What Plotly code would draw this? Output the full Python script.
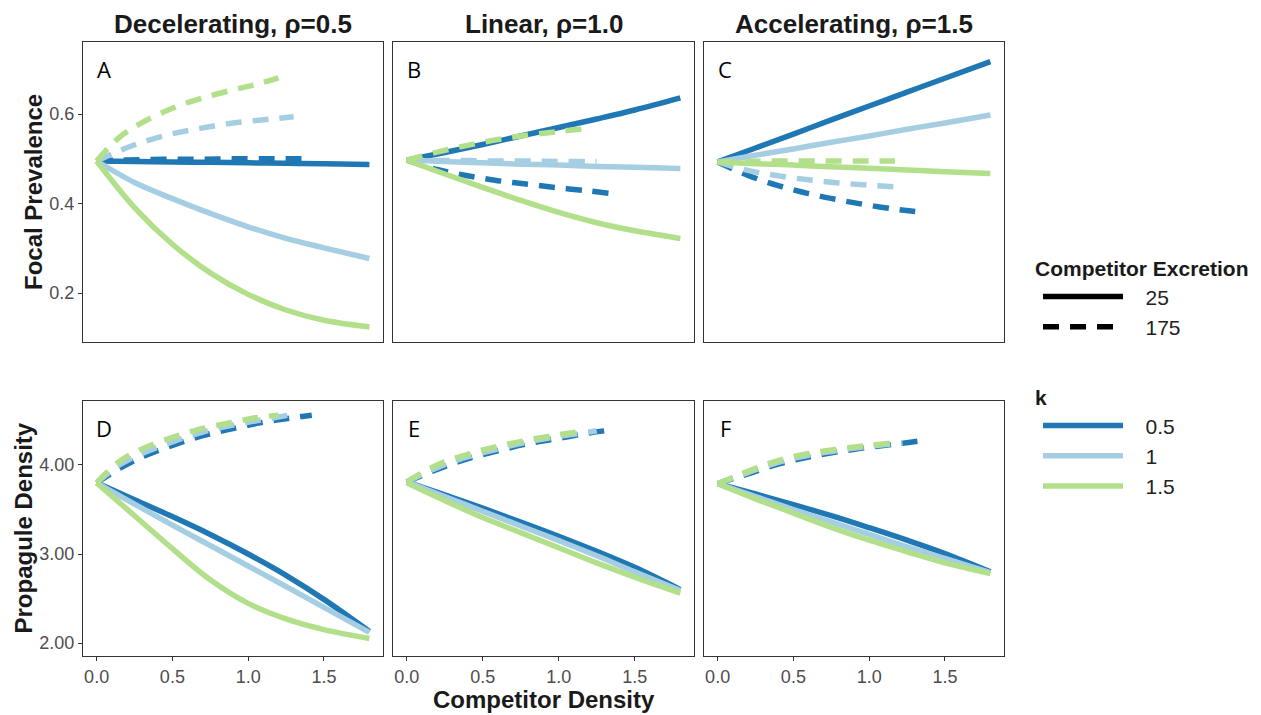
import plotly.graph_objects as go

# ---------------- data ----------------
regime_titles = ["Decelerating, ρ=0.5", "Linear, ρ=1.0", "Accelerating, ρ=1.5"]
panel_letters = ["A", "B", "C", "D", "E", "F"]
k_levels = ["0.5", "1", "1.5"]
k_colors = ["#1F78B4", "#A6CEE3", "#B2DF8A"]
excretion_levels = ["25", "175"]

# competitor density for excretion = 25 (solid)
density_25 = [0, 0.25, 0.5, 0.75, 1.0, 1.25, 1.5, 1.8]

# competitor density for excretion = 175 (dashed), per rho and k
density_175_r05_k05 = [0, 0.15, 0.3, 0.5, 0.7, 0.9, 1.1, 1.25, 1.42]
density_175_r05_k1 = [0, 0.15, 0.3, 0.5, 0.7, 0.9, 1.1, 1.3]
density_175_r05_k15 = [0, 0.15, 0.3, 0.5, 0.7, 0.9, 1.05, 1.2]
density_175_r10_k05 = [0, 0.2, 0.4, 0.6, 0.8, 1.0, 1.2, 1.33]
density_175_r10_k1 = [0, 0.2, 0.4, 0.6, 0.8, 1.0, 1.2, 1.25]
density_175_r10_k15 = [0, 0.2, 0.4, 0.6, 0.8, 1.0, 1.17]
density_175_r15_k05 = [0, 0.2, 0.4, 0.6, 0.8, 1.0, 1.2, 1.33]
density_175_r15_k1 = [0, 0.2, 0.4, 0.6, 0.8, 1.0, 1.22]
density_175_r15_k15 = [0, 0.2, 0.4, 0.6, 0.8, 1.0, 1.17]

# Focal prevalence, excretion 25
prev_A_25_k05 = [0.495, 0.494, 0.493, 0.492, 0.491, 0.490, 0.489, 0.487]
prev_A_25_k1 = [0.495, 0.447, 0.411, 0.378, 0.348, 0.322, 0.301, 0.277]
prev_A_25_k15 = [0.495, 0.391, 0.309, 0.245, 0.197, 0.162, 0.139, 0.124]
prev_B_25_k05 = [0.497, 0.514, 0.532, 0.551, 0.570, 0.589, 0.609, 0.636]
prev_B_25_k1 = [0.497, 0.494, 0.491, 0.488, 0.486, 0.483, 0.481, 0.478]
prev_B_25_k15 = [0.497, 0.466, 0.436, 0.407, 0.380, 0.357, 0.339, 0.322]
prev_C_25_k05 = [0.493, 0.524, 0.555, 0.587, 0.618, 0.649, 0.680, 0.717]
prev_C_25_k1 = [0.493, 0.508, 0.522, 0.537, 0.551, 0.566, 0.580, 0.598]
prev_C_25_k15 = [0.493, 0.489, 0.486, 0.482, 0.479, 0.475, 0.471, 0.467]

# Focal prevalence, excretion 175
prev_A_175_k05 = [0.495, 0.497, 0.498, 0.499, 0.499, 0.500, 0.500, 0.500, 0.500]
prev_A_175_k1 = [0.495, 0.518, 0.537, 0.556, 0.569, 0.580, 0.587, 0.594]
prev_A_175_k15 = [0.495, 0.548, 0.581, 0.613, 0.636, 0.654, 0.666, 0.681]
prev_B_175_k05 = [0.497, 0.476, 0.462, 0.451, 0.443, 0.435, 0.428, 0.423]
prev_B_175_k1 = [0.497, 0.496, 0.496, 0.495, 0.495, 0.494, 0.494, 0.494]
prev_B_175_k15 = [0.497, 0.515, 0.530, 0.543, 0.553, 0.561, 0.567]
prev_C_175_k05 = [0.493, 0.463, 0.440, 0.422, 0.408, 0.396, 0.386, 0.381]
prev_C_175_k1 = [0.493, 0.474, 0.462, 0.453, 0.446, 0.441, 0.436]
prev_C_175_k15 = [0.493, 0.494, 0.495, 0.495, 0.495, 0.495, 0.495]

# Propagule density, excretion 25
prop_D_25_k05 = [3.80, 3.61, 3.42, 3.22, 3.00, 2.76, 2.49, 2.13]
prop_D_25_k1 = [3.80, 3.56, 3.325, 3.095, 2.865, 2.635, 2.40, 2.12]
prop_D_25_k15 = [3.80, 3.43, 3.06, 2.71, 2.445, 2.27, 2.15, 2.05]
prop_E_25_k05 = [3.81, 3.665, 3.515, 3.36, 3.20, 3.03, 2.85, 2.60]
prop_E_25_k1 = [3.81, 3.645, 3.48, 3.315, 3.15, 2.98, 2.80, 2.59]
prop_E_25_k15 = [3.80, 3.60, 3.41, 3.24, 3.07, 2.90, 2.74, 2.56]
prop_F_25_k05 = [3.79, 3.675, 3.555, 3.43, 3.295, 3.155, 3.005, 2.80]
prop_F_25_k1 = [3.79, 3.645, 3.50, 3.36, 3.22, 3.08, 2.95, 2.79]
prop_F_25_k15 = [3.79, 3.62, 3.46, 3.30, 3.155, 3.025, 2.90, 2.78]

# Propagule density, excretion 175
prop_D_175_k05 = [3.80, 3.96, 4.09, 4.22, 4.33, 4.41, 4.48, 4.52, 4.56]
prop_D_175_k1 = [3.80, 4.00, 4.13, 4.26, 4.37, 4.45, 4.51, 4.57]
prop_D_175_k15 = [3.80, 4.04, 4.18, 4.31, 4.41, 4.48, 4.53, 4.56]
prop_E_175_k05 = [3.81, 3.95, 4.07, 4.16, 4.24, 4.30, 4.36, 4.39]
prop_E_175_k1 = [3.81, 3.97, 4.09, 4.18, 4.26, 4.32, 4.37, 4.385]
prop_E_175_k15 = [3.81, 4.00, 4.12, 4.21, 4.28, 4.34, 4.38]
prop_F_175_k05 = [3.79, 3.90, 4.01, 4.09, 4.15, 4.20, 4.24, 4.27]
prop_F_175_k1 = [3.79, 3.915, 4.03, 4.11, 4.165, 4.21, 4.25]
prop_F_175_k15 = [3.79, 3.93, 4.05, 4.13, 4.18, 4.22, 4.25]

x_ticks = [0, 0.5, 1.0, 1.5]
x_ticktext = ["0.0", "0.5", "1.0", "1.5"]
prev_ticks = [0.2, 0.4, 0.6]
prev_ticktext = ["0.2", "0.4", "0.6"]
prop_ticks = [2, 3, 4]
prop_ticktext = ["2.00", "3.00", "4.00"]

# ---------------- assemble panels ----------------
dashed_x = {
    0: [density_175_r05_k05, density_175_r05_k1, density_175_r05_k15],
    1: [density_175_r10_k05, density_175_r10_k1, density_175_r10_k15],
    2: [density_175_r15_k05, density_175_r15_k1, density_175_r15_k15],
}
panels = [
    ([prev_A_25_k05, prev_A_25_k1, prev_A_25_k15], [prev_A_175_k05, prev_A_175_k1, prev_A_175_k15]),
    ([prev_B_25_k05, prev_B_25_k1, prev_B_25_k15], [prev_B_175_k05, prev_B_175_k1, prev_B_175_k15]),
    ([prev_C_25_k05, prev_C_25_k1, prev_C_25_k15], [prev_C_175_k05, prev_C_175_k1, prev_C_175_k15]),
    ([prop_D_25_k05, prop_D_25_k1, prop_D_25_k15], [prop_D_175_k05, prop_D_175_k1, prop_D_175_k15]),
    ([prop_E_25_k05, prop_E_25_k1, prop_E_25_k15], [prop_E_175_k05, prop_E_175_k1, prop_E_175_k15]),
    ([prop_F_25_k05, prop_F_25_k1, prop_F_25_k15], [prop_F_175_k05, prop_F_175_k1, prop_F_175_k15]),
]

W, H = 1261, 715
FONT = "Liberation Sans, Arial, sans-serif"
LW = 5.5
DASH = "16px,11px"
PAD = "\u00a0\u00a0\u00a0"

col_px = [(83, 383), (393, 694), (704, 1004)]
row_px = [(42, 342), (401, 656)]


def fx(px):
    return px / W


def fy(py):
    return 1 - py / H


fig = go.Figure()

for i, (solid_sets, dashed_sets) in enumerate(panels):
    row, col = divmod(i, 3)
    ax = "" if i == 0 else str(i + 1)
    for j in range(3):
        fig.add_trace(go.Scatter(
            x=density_25, y=solid_sets[j], mode="lines",
            line=dict(color=k_colors[j], width=LW, shape="spline", smoothing=1.0),
            xaxis="x" + ax, yaxis="y" + ax, showlegend=False, hoverinfo="skip"))
        fig.add_trace(go.Scatter(
            x=dashed_x[col][j], y=dashed_sets[j], mode="lines",
            line=dict(color=k_colors[j], width=LW, dash=DASH, shape="spline", smoothing=1.0),
            xaxis="x" + ax, yaxis="y" + ax, showlegend=False, hoverinfo="skip"))

# legend entries
for name, dash in zip(excretion_levels, ["solid", DASH]):
    fig.add_trace(go.Scatter(x=[None], y=[None], mode="lines", name=PAD + name,
                             line=dict(color="black", width=LW, dash=dash),
                             legend="legend", showlegend=True))
for name, c in zip(k_levels, k_colors):
    fig.add_trace(go.Scatter(x=[None], y=[None], mode="lines", name=PAD + name,
                             line=dict(color=c, width=LW),
                             legend="legend2", showlegend=True))

axis_common = dict(showline=True, mirror=True, linecolor="#333333", linewidth=1.3,
                   showgrid=False, zeroline=False,
                   tickfont=dict(family=FONT, size=18, color="#4D4D4D"),
                   tickcolor="#333333", ticklen=4, tickwidth=1)

layout = dict(
    width=W, height=H, margin=dict(l=0, r=0, t=0, b=0),
    paper_bgcolor="white", plot_bgcolor="white",
    font=dict(family=FONT, color="#1a1a1a"),
)

for i in range(6):
    row, col = divmod(i, 3)
    ax = "" if i == 0 else str(i + 1)
    x0, x1 = col_px[col]
    y0, y1 = row_px[row]
    xa = dict(axis_common, domain=[fx(x0), fx(x1)], range=[-0.09, 1.89],
              anchor="y" + ax, tickvals=x_ticks, ticktext=x_ticktext)
    if row == 0:
        xa.update(showticklabels=False, ticks="")
    else:
        xa.update(ticks="outside")
    if row == 0:
        ya = dict(axis_common, domain=[fy(y1), fy(y0)], range=[0.0905, 0.761],
                  tickvals=prev_ticks, ticktext=prev_ticktext)
    else:
        ya = dict(axis_common, domain=[fy(y1), fy(y0)], range=[1.854, 4.719],
                  tickvals=prop_ticks, ticktext=prop_ticktext)
    ya["anchor"] = "x" + ax
    if col == 0:
        ya.update(ticks="outside")
    else:
        ya.update(showticklabels=False, ticks="")
    layout["xaxis" + ax] = xa
    layout["yaxis" + ax] = ya

annotations = []
for col, t in enumerate(regime_titles):
    x0, x1 = col_px[col]
    annotations.append(dict(text=t, x=fx((x0 + x1) / 2), y=fy(24), xref="paper", yref="paper",
                            showarrow=False, xanchor="center", yanchor="middle",
                            font=dict(family=FONT, size=26, color="#1a1a1a", weight="bold")))
for i, letter in enumerate(panel_letters):
    row, col = divmod(i, 3)
    annotations.append(dict(text=letter, x=fx(col_px[col][0] + 21), y=fy(row_px[row][0] + 27),
                            xref="paper", yref="paper", showarrow=False,
                            xanchor="center", yanchor="middle",
                            font=dict(family="Open Sans, sans-serif", size=22, color="black")))
annotations.append(dict(text="Focal Prevalence", x=fx(33), y=fy((42 + 342) / 2), xref="paper", yref="paper",
                        showarrow=False, textangle=-90, xanchor="center", yanchor="middle",
                        font=dict(family=FONT, size=24, color="#1a1a1a", weight="bold")))
annotations.append(dict(text="Propagule Density", x=fx(23), y=fy((401 + 656) / 2), xref="paper", yref="paper",
                        showarrow=False, textangle=-90, xanchor="center", yanchor="middle",
                        font=dict(family=FONT, size=24, color="#1a1a1a", weight="bold")))
annotations.append(dict(text="Competitor Density", x=fx((393 + 694) / 2), y=fy(699), xref="paper", yref="paper",
                        showarrow=False, xanchor="center", yanchor="middle",
                        font=dict(family=FONT, size=24, color="#1a1a1a", weight="bold")))
layout["annotations"] = annotations

legend_common = dict(font=dict(family=FONT, size=21, color="#222222"), itemwidth=80, indentation=5,
                     bgcolor="rgba(0,0,0,0)", borderwidth=0, xanchor="left", yanchor="top",
                     itemclick=False, itemdoubleclick=False, tracegroupgap=0)
layout["legend"] = dict(legend_common, x=fx(1033), y=fy(249),
                        title=dict(text="Competitor Excretion", side="top",
                                   font=dict(family=FONT, size=21, color="#1a1a1a", weight="bold")))
layout["legend2"] = dict(legend_common, x=fx(1033), y=fy(378),
                         title=dict(text="k", side="top",
                                    font=dict(family=FONT, size=21, color="#1a1a1a", weight="bold")))

fig.update_layout(**layout)

fig.write_html("out.html", config={"displayModeBar": False},
               post_script="document.body.style.margin='0';document.body.style.overflow='hidden';")
